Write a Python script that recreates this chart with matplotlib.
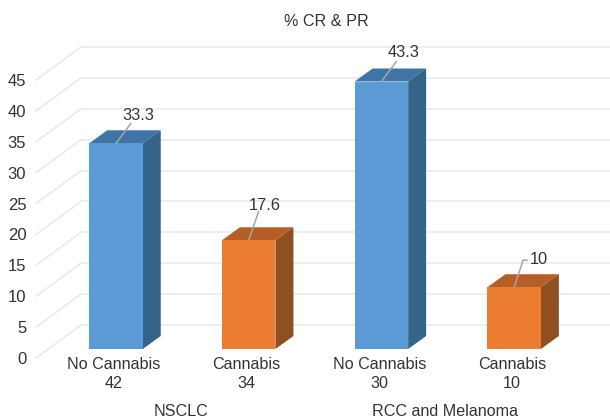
import matplotlib
matplotlib.use("Agg")
import matplotlib.pyplot as plt

plt.rcParams["font.family"] = ["Liberation Sans", "DejaVu Sans"]

# data ------------------------------------------------------------------
categories = ["No Cannabis", "Cannabis", "No Cannabis", "Cannabis"]
patients = [42, 34, 30, 10]
values = [33.3, 17.6, 43.3, 10]
value_labels = ["33.3", "17.6", "43.3", "10"]
groups = ["NSCLC", "RCC and Melanoma"]
yticks = [0, 5, 10, 15, 20, 25, 30, 35, 40, 45]

W, H = 610, 419
front = ["#5b9bd5", "#ed7d31", "#5b9bd5", "#ed7d31"]
top = ["#3f75a5", "#b55f26", "#3f75a5", "#b55f26"]
side = ["#366488", "#8f4f20", "#366488", "#8f4f20"]
text_col = "#333333"
grid_col = "#e9e9e9"

# pixel layout of the front plane of the fake 3D box
left, right, y0, y45 = 36, 565, 358, 80
bar0, bar_step = 116, 132.7
fig = plt.figure(figsize=(W / 100, H / 100), dpi=100)
ax = fig.add_axes([left / W, 1 - y0 / H, (right - left) / W, (y0 - y45) / H])
ax.set_xlim((left - bar0) / bar_step, (right - bar0) / bar_step)
ax.set_ylim(0, 45)
ax.patch.set_visible(False)
for s in ax.spines.values():
    s.set_visible(False)

px_x = 1 / bar_step            # one pixel in x data units
px_y = 45 / (y0 - y45)         # one pixel in y data units
wall_dx, wall_dy = 45 * px_x, 33 * px_y
bar_dx, bar_dy = 18 * px_x, 13 * px_y
lift = 9 * px_y
bar_w = 53.5 * px_x
x_end = (W - bar0) / bar_step

# walls
for t in yticks:
    ax.plot([ax.get_xlim()[0], ax.get_xlim()[0] + wall_dx], [t, t + wall_dy],
            color=grid_col, lw=1.1, clip_on=False, zorder=1)
    ax.plot([ax.get_xlim()[0] + wall_dx, x_end], [t + wall_dy, t + wall_dy],
            color=grid_col, lw=1.1, clip_on=False, zorder=1)

# bars
xs = list(range(len(values)))
ax.bar(xs, values, width=bar_w, bottom=lift, color=front, zorder=4, clip_on=False)
for i, v in zip(xs, values):
    l, r = i - bar_w / 2, i + bar_w / 2
    b, t = lift, lift + v
    ax.fill([l, r, r + bar_dx, l + bar_dx], [t, t, t + bar_dy, t + bar_dy],
            color=top[i], lw=0, zorder=3, clip_on=False)
    ax.fill([r, r + bar_dx, r + bar_dx, r], [b, b + bar_dy, t + bar_dy, t],
            color=side[i], lw=0, zorder=3, clip_on=False)

# value labels with leader lines
line_off = [(15, 20), (10, 29), (15, 20), (9, 27)]
text_off = [(22, 28), (16, 35), (22, 29), (25, 28)]
for i, v in enumerate(values):
    ax.annotate("", xy=(i, v + lift), xytext=line_off[i], textcoords="offset pixels",
                arrowprops=dict(arrowstyle="-", color="#a6a6a6", lw=1.1,
                                shrinkA=0, shrinkB=0), zorder=5, annotation_clip=False)
    ax.annotate(value_labels[i], xy=(i, v + lift), xytext=text_off[i],
                textcoords="offset pixels", ha="center", va="center",
                fontsize=11.8, color=text_col, zorder=6, annotation_clip=False)
# small hook on the last leader
ax.annotate("", xy=(3 + 9 * px_x, values[3] + lift + 27 * px_y), xytext=(4, 0),
            textcoords="offset pixels",
            arrowprops=dict(arrowstyle="-", color="#a6a6a6", lw=1.1, shrinkA=0, shrinkB=0))

# axes text
ax.set_yticks(yticks)
ax.tick_params(axis="y", length=0, pad=7, labelsize=12, labelcolor=text_col)
ax.set_xticks([x - 2 * px_x for x in xs])
ax.set_xticklabels([f"{c}\n{n}" for c, n in zip(categories, patients)],
                   linespacing=1.3)
ax.tick_params(axis="x", length=0, pad=-0.6, labelsize=11.6, labelcolor=text_col)

for g, x in zip(groups, [0.49, 2.48]):
    ax.annotate(g, xy=(x, 0), xytext=(0, -53), textcoords="offset pixels",
                ha="center", va="center", fontsize=11.6, color=text_col,
                annotation_clip=False)

fig.text(326 / W, 1 - 22 / H, "% CR & PR", ha="center", va="center",
         fontsize=11.6, color=text_col)

fig.savefig("out.png", dpi=100)
